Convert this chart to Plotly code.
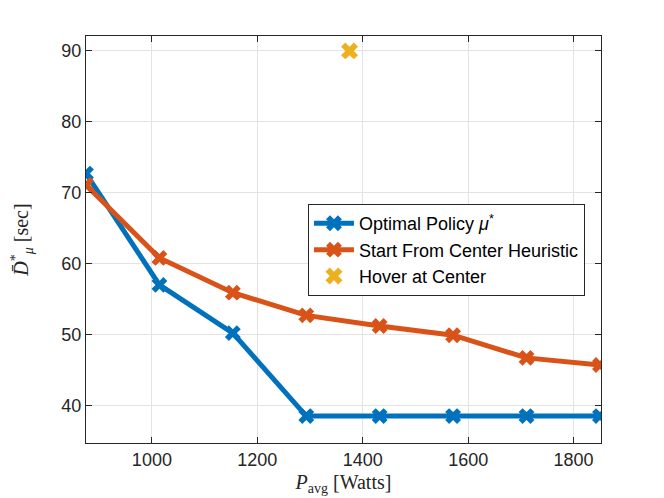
import plotly.graph_objects as go

# transmit power levels (Watts)
p_avg = [875, 1014.3, 1153.6, 1292.9, 1432.1, 1571.4, 1710.7, 1850]

# expected delay (sec)
optimal = [72.7, 57.0, 50.2, 38.5, 38.5, 38.5, 38.5, 38.5]
center_heuristic = [71.1, 60.8, 55.9, 52.7, 51.2, 49.9, 46.7, 45.7]

hover_x = [1375]
hover_y = [90]

blue = "#0072BD"
orange = "#D95319"
yellow = "#EDB120"

fig = go.Figure()

fig.add_trace(go.Scatter(
    x=p_avg, y=optimal, mode="lines+markers",
    name="Optimal Policy <i>μ</i><sup>*</sup>",
    line=dict(color=blue, width=5),
    marker=dict(symbol="x", size=14, color=blue),
))
fig.add_trace(go.Scatter(
    x=p_avg, y=center_heuristic, mode="lines+markers",
    name="Start From Center Heuristic",
    line=dict(color=orange, width=5),
    marker=dict(symbol="x", size=14, color=orange),
))
fig.add_trace(go.Scatter(
    x=hover_x, y=hover_y, mode="markers",
    name="Hover at Center",
    marker=dict(symbol="x", size=15, color=yellow),
))

axis_common = dict(
    showline=True, linecolor="#262626", linewidth=1, mirror="ticks",
    ticks="inside", ticklen=6, tickcolor="#262626",
    showgrid=True, gridcolor="#e3e3e3", gridwidth=1,
    zeroline=False, automargin=False,
    tickfont=dict(family="Liberation Sans, Arial", size=18, color="#262626"),
)

# the page body adds an 8px margin, so the figure is a bit smaller than the window
fig.update_layout(
    width=656, height=490,
    paper_bgcolor="white", plot_bgcolor="white",
    margin=dict(l=78, r=63, t=28, b=55),
    showlegend=True,
    legend=dict(
        x=0.431, y=0.587, xanchor="left", yanchor="top",
        bgcolor="white", bordercolor="#262626", borderwidth=1,
        font=dict(family="Liberation Sans, Arial", size=18, color="black"),
        itemwidth=40, tracegroupgap=0,
    ),
    xaxis=dict(
        axis_common, range=[875, 1852], tickvals=[1000, 1200, 1400, 1600, 1800],
        title=dict(text="<i>P</i><sub>avg</sub> [Watts]", standoff=6,
                   font=dict(family="Liberation Serif, DejaVu Serif", size=20, color="#262626")),
    ),
    yaxis=dict(
        axis_common, range=[34.7, 92.1], tickvals=[40, 50, 60, 70, 80, 90],
        title=dict(text="<i>D̄</i><sup>*</sup><sub><i>μ</i></sub> [sec]", standoff=34,
                   font=dict(family="Liberation Serif, DejaVu Serif", size=20, color="#262626")),
    ),
)

fig.write_html("out.html")
